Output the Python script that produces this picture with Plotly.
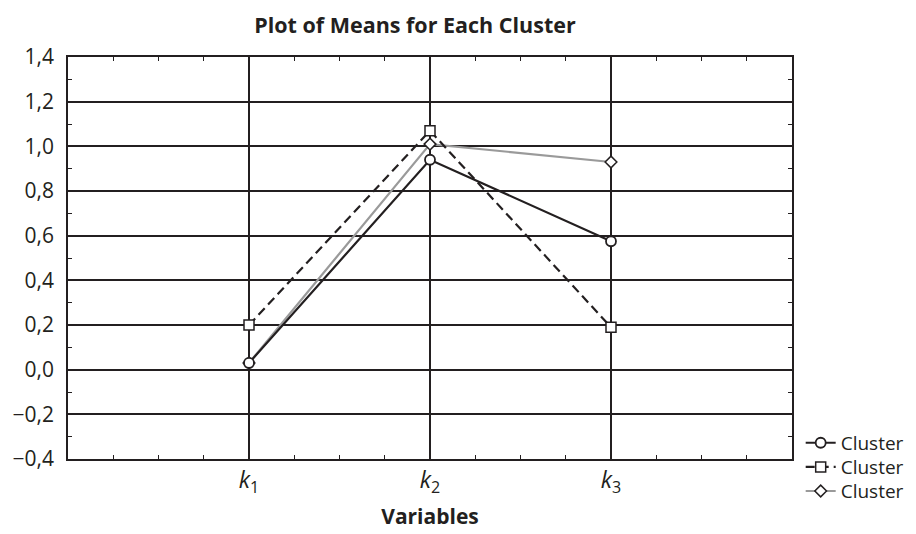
import plotly.graph_objects as go

variables = ["k1", "k2", "k3"]
tick_labels = ["<i>k</i><sub>1</sub>", "<i>k</i><sub>2</sub>", "<i>k</i><sub>3</sub>"]
x_pos = [1, 2, 3]
cluster1 = [0.03, 0.94, 0.575]
cluster2 = [0.20, 1.07, 0.19]
cluster3 = [0.03, 1.01, 0.93]
y_ticks = [-0.4, -0.2, 0.0, 0.2, 0.4, 0.6, 0.8, 1.0, 1.2, 1.4]

INK = "#231f20"
FONT = "Open Sans"

fig = go.Figure()
fig.add_trace(go.Scatter(
    x=x_pos, y=cluster3, name="Cluster", mode="lines+markers", legend="legend3",
    line=dict(color="#9a9a9a", width=2.2),
    marker=dict(symbol="diamond", size=9, color="white", line=dict(color=INK, width=1.5)),
))
fig.add_trace(go.Scatter(
    x=x_pos, y=cluster2, name="Cluster", mode="lines+markers", legend="legend2",
    line=dict(color=INK, width=2.2, dash="9px,5px"),
    marker=dict(symbol="square", size=10, color="white", line=dict(color=INK, width=1.5)),
))
fig.add_trace(go.Scatter(
    x=x_pos, y=cluster1, name="Cluster", mode="lines+markers", legend="legend",
    line=dict(color=INK, width=2.2),
    marker=dict(symbol="circle", size=10, color="white", line=dict(color=INK, width=1.8)),
))

leg_common = dict(x=1.012, xanchor="left", yanchor="middle",
                  font=dict(size=19, family=FONT, color=INK),
                  bgcolor="rgba(0,0,0,0)", borderwidth=0, itemwidth=30)

fig.update_layout(
    width=916, height=534,
    margin=dict(l=68, r=124, t=57, b=75, autoexpand=False),
    paper_bgcolor="white", plot_bgcolor="white",
    separators=",.",
    font=dict(family=FONT, color=INK, size=21),
    title=dict(text="<b>Plot of Means for Each Cluster</b>", x=0.453, xanchor="center",
               y=0.953, yanchor="middle", font=dict(size=21.5, family=FONT, color=INK)),
    showlegend=True,
    legend=dict(y=0.040, **leg_common),
    legend2=dict(y=-0.020, **leg_common),
    legend3=dict(y=-0.080, **leg_common),
)

fig.update_xaxes(
    range=[0, 4], tickmode="array", tickvals=x_pos, ticktext=tick_labels,
    showgrid=True, gridcolor=INK, gridwidth=1.5,
    showline=True, linecolor=INK, linewidth=1.5, mirror="ticks",
    ticks="inside", ticklen=0, zeroline=False,
    minor=dict(dtick=0.25, ticks="inside", ticklen=4, tickcolor=INK, tickwidth=1, showgrid=False),
    tickfont=dict(size=23, family=FONT, color=INK),
    title=dict(text="<b>Variables</b>", font=dict(size=21, family=FONT, color=INK), standoff=12),
)
fig.update_yaxes(
    range=[-0.4, 1.4], tickmode="array", tickvals=y_ticks,
    tickformat=".1f",
    showgrid=True, gridcolor=INK, gridwidth=1.5,
    showline=True, linecolor=INK, linewidth=1.5, mirror="ticks",
    ticks="inside", ticklen=0, zeroline=False,
    minor=dict(dtick=0.1, ticks="inside", ticklen=4, tickcolor=INK, tickwidth=1, showgrid=False),
    tickfont=dict(size=21, family=FONT, color=INK),
    ticklabelstandoff=8,
)

fig.write_html("out.html", config={"displayModeBar": False},
               post_script="document.body.style.margin='0';document.body.style.padding='0';document.body.style.overflow='hidden';")
